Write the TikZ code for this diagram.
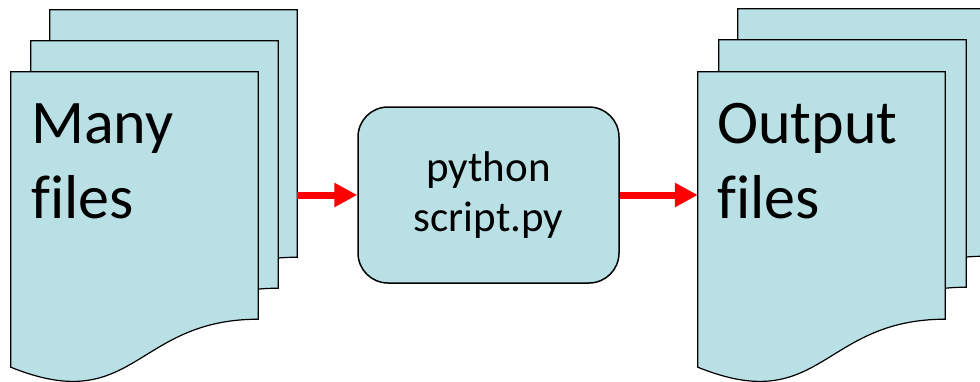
\documentclass[tikz,border=0pt]{standalone}
\usepackage{fontspec}
\setmainfont[Ligatures=NoCommon]{Carlito}
\usetikzlibrary{arrows.meta}
\definecolor{pagefill}{RGB}{185,224,228}
\tikzset{
  page/.style={minimum width=247pt, minimum height=247pt, inner sep=0pt},
  page outline/.style={fill=pagefill, draw=black, line width=1.2pt},
  big label/.style={font=\fontsize{62}{75}\selectfont, align=left, inner sep=0pt},
  script box/.style={draw, line width=1.5pt, fill=pagefill, rounded corners=30pt,
    minimum width=261pt, minimum height=176pt, align=center,
    font=\fontsize{43}{50}\selectfont},
  flow/.style={draw=red, line width=7pt, -{Triangle[length=23pt, width=23pt]}},
}
\newcommand{\docpage}[1]{%
  \draw[page outline] (#1.north west) -- (#1.north east) -- (#1.south east)
    .. controls (#1.south) and ([yshift=-98pt]#1.south) .. ([yshift=-48pt]#1.south west) -- cycle;}

\begin{document}
\begin{tikzpicture}[x=1pt, y=-1pt]
  \useasboundingbox (0,0) rectangle (980,381);
  \foreach \i/\dx/\dy in {1/0/0, 2/-19/31, 3/-39/62}{
    \node[page] (in\i) at (173.5+\dx,133.5+\dy) {};
    \docpage{in\i}
  }
  \foreach \i/\dx/\dy in {1/0/0, 2/-19/31, 3/-40/63}{
    \node[page] (out\i) at (861.5+\dx,132.5+\dy) {};
    \docpage{out\i}
  }
  \node[big label, anchor=base west] (intext) at (31,218) {Many\\files};
  \node[big label, anchor=base west] (outtext) at (717,218) {Output\\files};
  \node[script box] (script) at (488.5,195) {python\\script.py};
  \draw[flow] (in1.east |- script.west) -- (script.west);
  \draw[flow] (script.east) -- (script.east -| out3.west);
\end{tikzpicture}
\end{document}
